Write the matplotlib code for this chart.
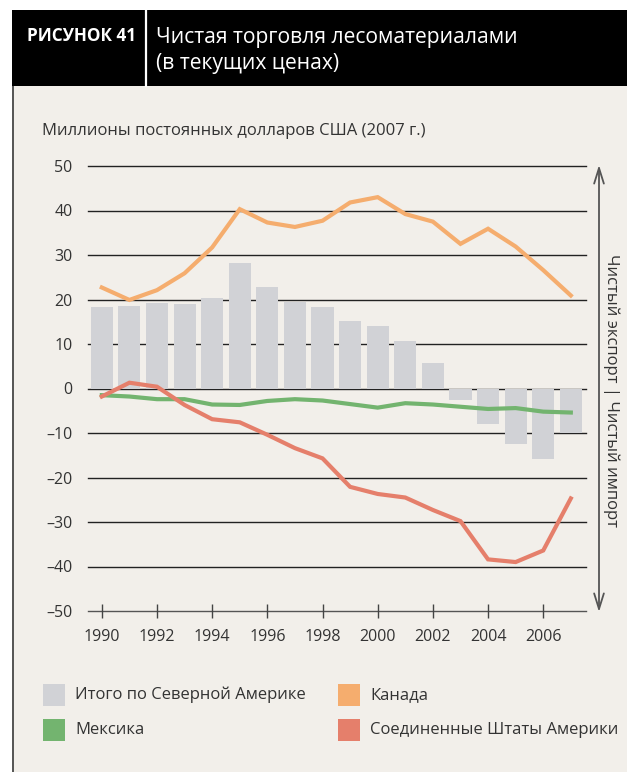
import matplotlib
matplotlib.use("Agg")
import matplotlib.pyplot as plt
from matplotlib.patches import Rectangle, FancyArrowPatch
from matplotlib.lines import Line2D

plt.rcParams['font.family'] = ['Open Sans', 'DejaVu Sans']

years = list(range(1990, 2008))
total_na = [18.3, 18.5, 19.2, 19.0, 20.3, 28.2, 22.8, 19.5, 18.3, 15.2, 14.0, 10.7, 5.7,
            -2.6, -7.9, -12.4, -15.8, -10.1]
canada = [22.7, 19.9, 22.1, 25.9, 31.7, 40.3, 37.3, 36.3, 37.7, 41.8, 43.0, 39.2, 37.5,
          32.5, 35.9, 31.9, 26.6, 20.9]
mexico = [-1.5, -1.8, -2.4, -2.4, -3.6, -3.7, -2.8, -2.4, -2.7, -3.5, -4.3, -3.3, -3.6,
          -4.1, -4.6, -4.4, -5.2, -5.4]
usa = [-1.8, 1.3, 0.4, -3.7, -6.9, -7.6, -10.4, -13.4, -15.7, -22.1, -23.7, -24.5, -27.3,
       -29.8, -38.4, -39.0, -36.4, -24.7]
y_ticks = [50, 40, 30, 20, 10, 0, -10, -20, -30, -40, -50]
x_ticks = list(range(1990, 2007, 2))

fig_title_label = "РИСУНОК 41"
title_lines = ["Чистая торговля лесоматериалами", "(в текущих ценах)"]
y_axis_title = "Миллионы постоянных долларов США (2007 г.)"
right_label = "Чистый экспорт | Чистый импорт"
legend_labels = ["Итого по Северной Америке", "Канада", "Мексика", "Соединенные Штаты Америки"]

c_bar = "#d1d2d6"
c_can = "#f5ad6e"
c_mex = "#73b46f"
c_usa = "#e57f6b"
bg = "#f2efea"
txt = "#333333"

W, H = 627, 772
fig = plt.figure(figsize=(W / 100, H / 100), dpi=100, facecolor="white")

def fx(px):
    return px / W

def fy(py):
    return 1 - py / H

# background panel
fig.patches.append(Rectangle((fx(12), 0), 1 - fx(12), fy(86), transform=fig.transFigure,
                             facecolor=bg, edgecolor="none", zorder=-5))
# left border
fig.add_artist(Line2D([fx(12.5), fx(12.5)], [0, fy(86)], transform=fig.transFigure,
                      color="#3a3a3a", lw=1.2, zorder=-4))
# header
fig.patches.append(Rectangle((fx(12), fy(86)), 1 - fx(12), (86 - 10) / H,
                             transform=fig.transFigure, facecolor="black", edgecolor="none",
                             zorder=-4))
fig.add_artist(Line2D([fx(146), fx(146)], [fy(86), fy(10)], transform=fig.transFigure,
                      color="white", lw=1.6, zorder=-3))
fig.text(fx(27), fy(36), fig_title_label, color="white", fontsize=12.3, fontweight="bold",
         va="center", ha="left")
fig.text(fx(156), fy(37), title_lines[0], color="white", fontsize=15.2, va="center", ha="left")
fig.text(fx(156), fy(64), title_lines[1], color="white", fontsize=15.2, va="center", ha="left")

fig.text(fx(42), fy(131), y_axis_title, color=txt, fontsize=12, va="center", ha="left")

# axes
ax = fig.add_axes([fx(88), fy(611), (586 - 88) / W, (611 - 166) / H])
ax.set_zorder(2)
ax.set_facecolor("none")
ax.set_xlim(1989.5, 2007.55)
ax.set_ylim(-50, 50)
for s in ax.spines.values():
    s.set_visible(False)

for yv in y_ticks:
    ax.axhline(yv, color="#222222" if yv != -50 else "#555555", lw=1.0, zorder=1, clip_on=False)

ax.bar(years, total_na, width=0.8, color=c_bar, zorder=2)
ax.plot(years, mexico, color=c_mex, lw=3, zorder=3, solid_joinstyle="miter")
ax.plot(years, usa, color=c_usa, lw=3, zorder=4, solid_joinstyle="miter")
ax.plot(years, canada, color=c_can, lw=3, zorder=4, solid_joinstyle="miter")

ax.set_yticks(y_ticks)
ax.set_yticklabels([str(v).replace("-", "\u2013") for v in y_ticks])
ax.tick_params(axis="y", length=0, pad=11, labelsize=11.5, labelcolor=txt)
ax.set_xticks(x_ticks)
ax.set_xticklabels([str(v) for v in x_ticks])
ax.tick_params(axis="x", direction="inout", length=10, width=1, color="#444444",
               pad=8, labelsize=11.5, labelcolor=txt)

# right arrow
fig.add_artist(FancyArrowPatch(
    (fx(599), fy(612)), (fx(599), fy(165)), transform=fig.transFigure,
    arrowstyle="<->,head_length=0.8,head_width=0.25", color="#555555", lw=1.3,
    mutation_scale=14, shrinkA=0, shrinkB=0))
fig.text(fx(611), fy(390), right_label, rotation=-90, color=txt, fontsize=12,
         va="center", ha="center")

# legend
leg_items = [
    (43, 684, c_bar, legend_labels[0]),
    (338, 684, c_can, legend_labels[1]),
    (43, 719, c_mex, legend_labels[2]),
    (338, 719, c_usa, legend_labels[3]),
]
for x0, y0, col, lab in leg_items:
    fig.patches.append(Rectangle((fx(x0), fy(y0 + 21.5)), 22 / W, 21.5 / H,
                                 transform=fig.transFigure, facecolor=col, edgecolor="none"))
    fig.text(fx(x0 + 32), fy(y0 + 11), lab, color=txt, fontsize=11.95,
             va="center", ha="left")

fig.savefig("out.png", dpi=100, facecolor="white")
